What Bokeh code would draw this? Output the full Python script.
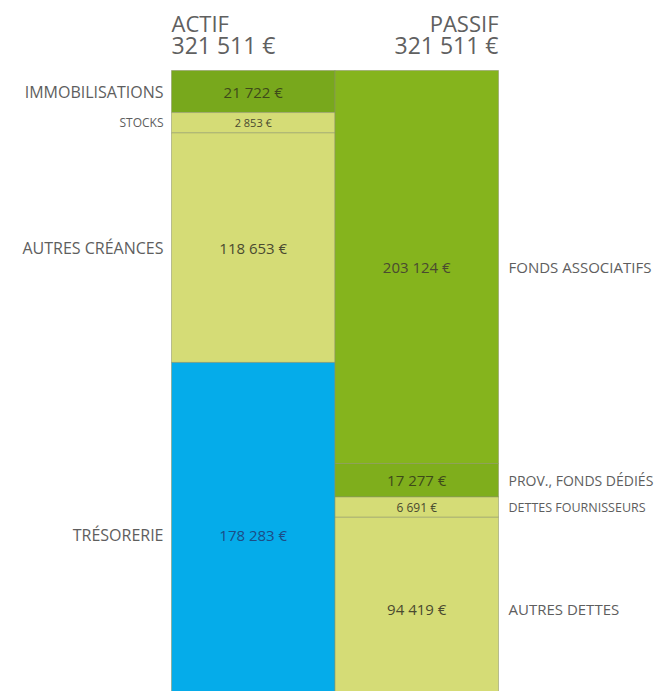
from bokeh.plotting import figure
from bokeh.models import Range1d, ColumnDataSource, Label
from bokeh.core.properties import value
from bokeh.embed import file_html
from bokeh.resources import INLINE

# ---- data ----
columns = ["ACTIF", "PASSIF"]
totals = [321511, 321511]
actif_items = ["IMMOBILISATIONS", "STOCKS", "AUTRES CRÉANCES", "TRÉSORERIE"]
actif_values = [21722, 2853, 118653, 178283]
passif_items = ["FONDS ASSOCIATIFS", "PROV., FONDS DÉDIÉS", "DETTES FOURNISSEURS", "AUTRES DETTES"]
passif_values = [203124, 17277, 6691, 94419]

# ---- styles ----
actif_colors = ["#78a81c", "#d5dc76", "#d5dc76", "#05acea"]
passif_colors = ["#85b41d", "#7fae1c", "#d5dc76", "#d5dc76"]
actif_text_colors = ["#3e4a1a", "#4a4a30", "#4a4a30", "#1c4d86"]
passif_text_colors = ["#4a4a30", "#3e4a1a", "#4a4a30", "#4a4a30"]
actif_val_sizes = ["15px", "11px", "15px", "15px"]
passif_val_sizes = ["15px", "15px", "12px", "15px"]
actif_lab_sizes = ["16px", "12px", "16px", "16px"]
passif_lab_sizes = ["15px", "14px", "12.5px", "15px"]
MIN_DISPLAY = 10500  # minimum drawn height so that small items stay readable

FONT = "Open Sans"
W, H = 658, 691
PX_PER_UNIT = 1.935 / 1000.0
TOP_PX = 70
COL_PX = 163.5
LEFT_PX = 171

y_top = -TOP_PX / PX_PER_UNIT
y_bottom = y_top + H / PX_PER_UNIT
x_start = -0.5 - LEFT_PX / COL_PX
x_end = x_start + W / COL_PX

p = figure(width=W, height=H, output_backend="svg", toolbar_location=None,
           x_range=Range1d(x_start, x_end), y_range=Range1d(y_bottom, y_top),
           min_border=0, outline_line_color=None)
p.axis.visible = False
p.grid.visible = False
p.background_fill_color = "white"
p.border_fill_color = "white"


def fmt(v):
    return f"{v:,}".replace(",", " ") + " €"


def stack(col_idx, items, vals, colors, tcolors, vsizes, lsizes, side):
    disp = [max(v, MIN_DISPLAY) for v in vals]
    tops, bottoms, mids = [], [], []
    c = 0
    for d in disp:
        tops.append(c)
        bottoms.append(c + d)
        mids.append(c + d / 2)
        c += d
    src = ColumnDataSource(dict(x=[col_idx] * len(vals), top=tops, bottom=bottoms,
                                color=colors))
    p.vbar(x="x", width=1.0, top="top", bottom="bottom", fill_color="color",
           line_color="#8c9466", line_alpha=0.55, line_width=1, source=src)
    for i, (it, v) in enumerate(zip(items, vals)):
        p.text(x=[col_idx], y=[mids[i]], text=[fmt(v)], text_align="center",
               text_baseline="middle", text_font=value(FONT),
               text_font_size=vsizes[i], text_color=tcolors[i])
        if side == "left":
            p.text(x=[col_idx - 0.5], y=[mids[i]], text=[it], x_offset=-8,
                   text_align="right", text_baseline="middle", text_font=value(FONT),
                   text_font_size=lsizes[i], text_color="#5e5e5e")
        else:
            p.text(x=[col_idx + 0.5], y=[mids[i]], text=[it], x_offset=10,
                   text_align="left", text_baseline="middle", text_font=value(FONT),
                   text_font_size=lsizes[i], text_color="#5e5e5e")


stack(0, actif_items, actif_values, actif_colors, actif_text_colors,
      actif_val_sizes, actif_lab_sizes, "left")
stack(1, passif_items, passif_values, passif_colors, passif_text_colors,
      passif_val_sizes, passif_lab_sizes, "right")

# headers
for i, (name, tot) in enumerate(zip(columns, totals)):
    if i == 0:
        xx, align = i - 0.5, "left"
    else:
        xx, align = i + 0.5, "right"
    p.add_layout(Label(x=xx, y=0, y_offset=33, text=name, text_align=align,
                       text_baseline="bottom", text_font=FONT, text_font_size="22px",
                       text_color="#606060"))
    p.add_layout(Label(x=xx, y=0, y_offset=10, text=fmt(tot), text_align=align,
                       text_baseline="bottom", text_font=FONT, text_font_size="23px",
                       text_color="#606060"))

open("out.html", "w").write(file_html(p, INLINE))
